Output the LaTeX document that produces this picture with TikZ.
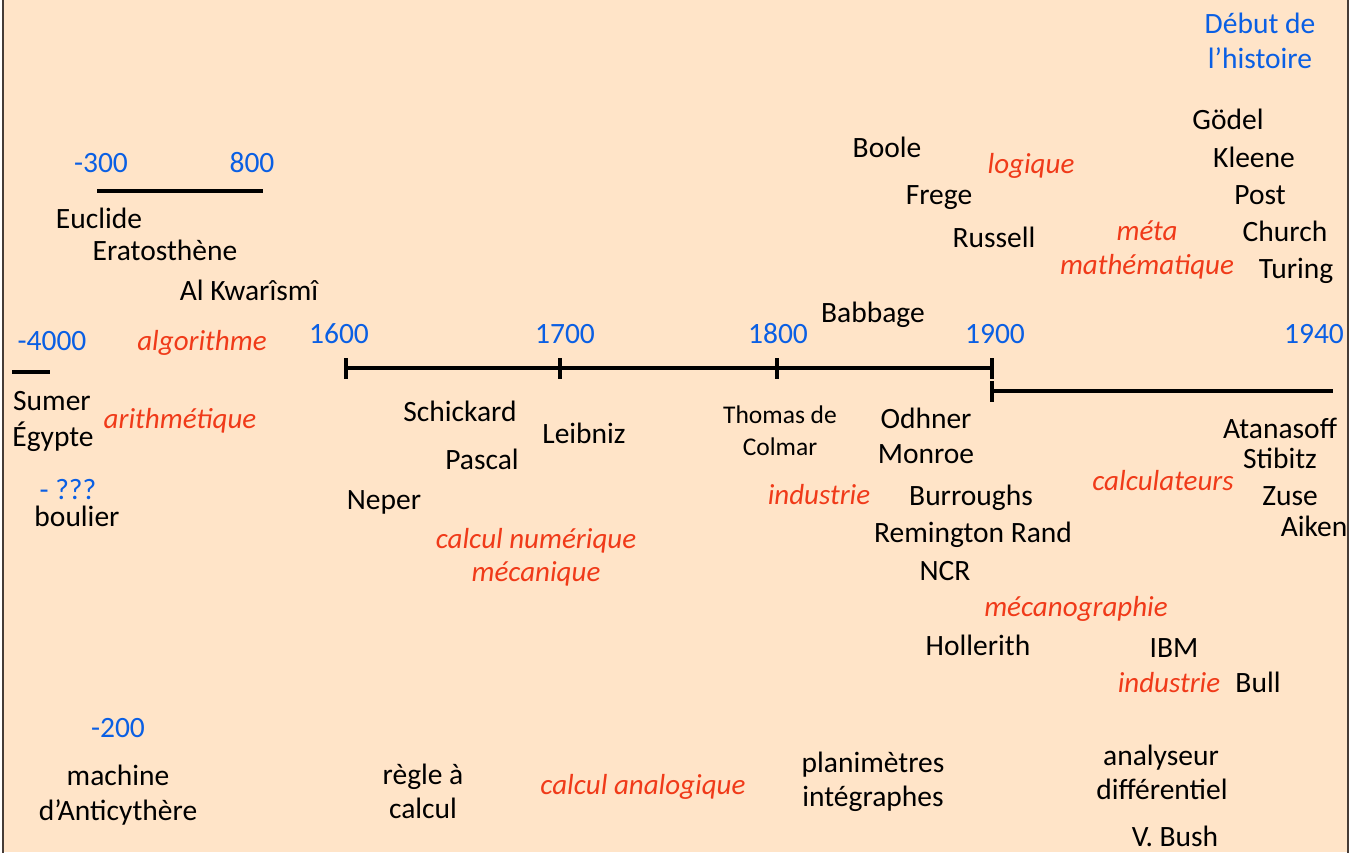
\documentclass[tikz,border=0pt]{standalone}
\usepackage{fontspec}
\setmainfont{Carlito}
\definecolor{bg}{RGB}{255,228,200}
\definecolor{tblue}{RGB}{10,95,228}
\definecolor{tred}{RGB}{240,58,25}
\definecolor{frame}{RGB}{70,60,55}
\begin{document}
\begin{tikzpicture}[x=1pt,y=-1pt,
  txt/.style={anchor=base,inner sep=0pt,font=\fontsize{29.5}{35}\selectfont,text=black},
  smalltxt/.style={txt,font=\fontsize{25.5}{30}\selectfont},
  yr/.style={txt,text=tblue},
  theme/.style={txt,text=tred,font=\fontsize{29}{35}\selectfont\itshape},
  axis/.style={line width=4pt,black},
  tick/.style={line width=4pt,black}]
\useasboundingbox (0,0) rectangle (1364,852);
\fill[white] (0,0) rectangle (1364,852);
\fill[bg] (3,0) rectangle (1348,852);
\draw[line width=1.3pt,frame] (3,-2) -- (3,854);
\draw[line width=1.3pt,frame] (1348,-2) -- (1348,854);

% timeline coordinates
\coordinate (a1) at (97,191);
\coordinate (a2) at (263,191);
\coordinate (s1) at (12,372);
\coordinate (s2) at (50,372);
\coordinate (t1600) at (346,368);
\coordinate (t1700) at (560,368);
\coordinate (t1800) at (777,368);
\coordinate (t1900) at (992,368);
\coordinate (u1900) at (992,391);
\coordinate (u1940) at (1333,391);

\draw[axis] (a1) -- (a2);
\draw[axis] (s1) -- (s2);
\draw[axis] (t1600) -- (t1700) -- (t1800) -- (t1900);
\draw[axis] (u1900) -- (u1940);
\foreach \c in {t1600,t1700,t1800,t1900}
  \draw[tick] ([yshift=-10.5pt]\c) -- ([yshift=10.5pt]\c);
\draw[tick] ([yshift=-10.5pt]u1900) -- ([yshift=10.5pt]u1900);

% years (blue)
\node[yr] (deb1) at (1260,33) {Début de};
\node[yr] (deb2) at (1260,68) {l’histoire};
\node[yr] (m300) at (101,172) {-300};
\node[yr] (y800) at (252,172) {800};
\node[yr] (m4000) at (52,350) {-4000};
\node[yr] (y1600) at (339,343) {1600};
\node[yr] (y1700) at (565,343) {1700};
\node[yr] (y1800) at (778,343) {1800};
\node[yr] (y1900) at (995,343) {1900};
\node[yr] (y1940) at (1314,343) {1940};
\node[yr] (qqq) at (68,499) {- ???};
\node[yr] (m200) at (118,737) {-200};

% names (black)
\node[txt] (goedel) at (1228,129) {Gödel};
\node[txt] (kleene) at (1254,167) {Kleene};
\node[txt] (post) at (1260,204) {Post};
\node[txt] (church) at (1285,241) {Church};
\node[txt] (turing) at (1296,278) {Turing};
\node[txt] (boole) at (887,157) {Boole};
\node[txt] (frege) at (939,204) {Frege};
\node[txt] (russell) at (994,247) {Russell};
\node[txt] (babbage) at (873,322) {Babbage};
\node[txt] (euclide) at (99,228) {Euclide};
\node[txt] (erato) at (165,260) {Eratosthène};
\node[txt] (alk) at (249,300) {Al Kwarîsmî};
\node[txt] (sumer) at (52,410) {Sumer};
\node[txt] (egypte) at (53,446) {Égypte};
\node[txt] (boulier) at (77,526) {boulier};
\node[txt] (schickard) at (460,421) {Schickard};
\node[txt] (leibniz) at (584,443) {Leibniz};
\node[txt] (pascal) at (482,469) {Pascal};
\node[txt] (neper) at (384,509) {Neper};
\node[smalltxt] (thomas) at (780,423) {Thomas de};
\node[smalltxt] (colmar) at (780,455) {Colmar};
\node[txt] (odhner) at (926,428) {Odhner};
\node[txt] (monroe) at (926,463) {Monroe};
\node[txt] (burroughs) at (971,505) {Burroughs};
\node[txt] (remington) at (973,542) {Remington Rand};
\node[txt] (ncr) at (945,580) {NCR};
\node[txt] (hollerith) at (978,655) {Hollerith};
\node[txt] (ibm) at (1174,657) {IBM};
\node[txt] (bull) at (1258,692) {Bull};
\node[txt] (atanasoff) at (1280,438) {Atanasoff};
\node[txt] (stibitz) at (1280,468) {Stibitz};
\node[txt] (zuse) at (1290,505) {Zuse};
\node[txt] (aiken) at (1314,536) {Aiken};
\node[txt] (machine) at (118,785) {machine};
\node[txt] (anticy) at (118,820) {d’Anticythère};
\node[txt] (regle) at (423,784) {règle à};
\node[txt] (calculb) at (423,818) {calcul};
\node[txt] (plani) at (873,772) {planimètres};
\node[txt] (integ) at (873,806) {intégraphes};
\node[txt] (analyseur) at (1161,765) {analyseur};
\node[txt] (diff) at (1162,799) {différentiel};
\node[txt] (bush) at (1175,846) {V. Bush};

% themes (red italic)
\node[theme] (logique) at (1031,173) {logique};
\node[theme] (meta) at (1147,240) {méta};
\node[theme] (mathem) at (1147,274) {mathématique};
\node[theme] (algo) at (202,350) {algorithme};
\node[theme] (arith) at (180,428) {arithmétique};
\node[theme] (calcnum) at (536,548) {calcul numérique};
\node[theme] (meca) at (536,581) {mécanique};
\node[theme] (indus1) at (819,504) {industrie};
\node[theme] (calculateurs) at (1163,490) {calculateurs};
\node[theme] (mecano) at (1076,616) {mécanographie};
\node[theme] (indus2) at (1169,692) {industrie};
\node[theme] (calcana) at (643,794) {calcul analogique};
\end{tikzpicture}
\end{document}
